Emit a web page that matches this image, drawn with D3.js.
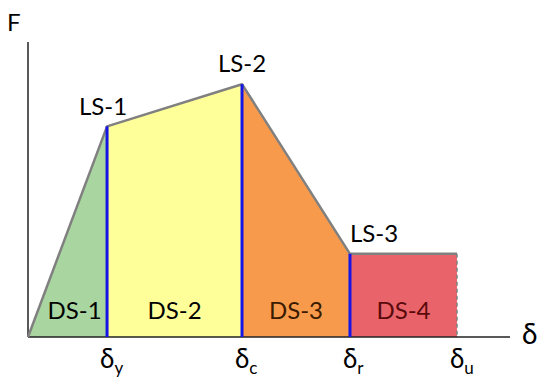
<!DOCTYPE html>
<html><head><meta charset="utf-8">
<script src="https://cdn.jsdelivr.net/npm/d3@7"></script>
<style>body{margin:0;background:#fff}svg{display:block}text{font-family:Lato,"Open Sans",sans-serif}</style>
</head><body><svg id="c" width="550" height="386"></svg>
<script>
// Curve points (displacement, force) in relative units
const dispKeys = ["0", "y", "c", "r", "u"];
const dispValues = [0, 16.4, 44.4, 66.8, 89.0];
const forceValues = [0, 71.4, 85.7, 28.2, 28.2];
const limitStates = ["LS-1", "LS-2", "LS-3"];
const damageStates = ["DS-1", "DS-2", "DS-3", "DS-4"];
const dsColors = ["#a9d5a0", "#ffff99", "#f89a4b", "#e9636a"];
const dsTextColors = ["#000", "#000", "#3a1a00", "#5a0a0a"];

const svg = d3.select("#c");
const x = d3.scaleLinear().domain([0, 100]).range([28, 510]);
const y = d3.scaleLinear().domain([0, 100]).range([337, 42]);

const pts = dispValues.map((d, i) => [d, forceValues[i]]);

// Damage-state areas
const area = d3.area().x(d => x(d[0])).y0(y(0)).y1(d => y(d[1]));
for (let i = 0; i < 4; i++) {
  svg.append("path").attr("d", area([pts[i], pts[i + 1]])).attr("fill", dsColors[i]);
}

// Axes
svg.append("line").attr("x1", x(0)).attr("x2", x(0)).attr("y1", y(0)).attr("y2", y(100))
  .attr("stroke", "#222").attr("stroke-width", 1.5);
svg.append("line").attr("x1", x(0)).attr("x2", x(100)).attr("y1", y(0)).attr("y2", y(0))
  .attr("stroke", "#222").attr("stroke-width", 1.5);

// Backbone curve
svg.append("path").attr("d", d3.line().x(d => x(d[0])).y(d => y(d[1]))(pts))
  .attr("fill", "none").attr("stroke", "#808080").attr("stroke-width", 2.5).attr("stroke-linejoin", "round");

// Limit state vertical lines
for (let i = 1; i <= 3; i++) {
  svg.append("line").attr("x1", x(dispValues[i])).attr("x2", x(dispValues[i]))
    .attr("y1", y(forceValues[i])).attr("y2", y(0))
    .attr("stroke", "#1414e6").attr("stroke-width", 3);
}
// Ultimate dashed line
svg.append("line").attr("x1", x(dispValues[4])).attr("x2", x(dispValues[4]))
  .attr("y1", y(forceValues[4])).attr("y2", y(0))
  .attr("stroke", "#808080").attr("stroke-width", 1.5).attr("stroke-dasharray", "4,3");

// Limit state labels
const lsOffsets = [[-4, -11, "middle"], [0, -12, "middle"], [0, -12, "start"]];
limitStates.forEach((t, i) => {
  const o = lsOffsets[i];
  svg.append("text").attr("x", x(dispValues[i + 1]) + o[0]).attr("y", y(forceValues[i + 1]) + o[1])
    .attr("text-anchor", o[2]).attr("font-size", 24).attr("fill", "#000").text(t);
});

// Damage state labels
damageStates.forEach((t, i) => {
  svg.append("text").attr("x", (x(dispValues[i]) + x(dispValues[i + 1])) / 2 + (i === 0 ? 7 : 0))
    .attr("y", y(0) - 18).attr("text-anchor", "middle").attr("font-size", 24)
    .attr("fill", dsTextColors[i]).text(t);
});

// Displacement tick labels
for (let i = 1; i <= 4; i++) {
  const t = svg.append("text").attr("x", x(dispValues[i]) - 7).attr("y", 368).attr("font-size", 26).attr("fill", "#000");
  t.append("tspan").text("δ");
  t.append("tspan").attr("font-size", 17).attr("dy", 6).text(dispKeys[i]);
}

// Axis titles
svg.append("text").attr("x", 7).attr("y", 31).attr("font-size", 24).text("F");
svg.append("text").attr("x", 522).attr("y", 344).attr("font-size", 28).text("δ");
</script></body></html>
